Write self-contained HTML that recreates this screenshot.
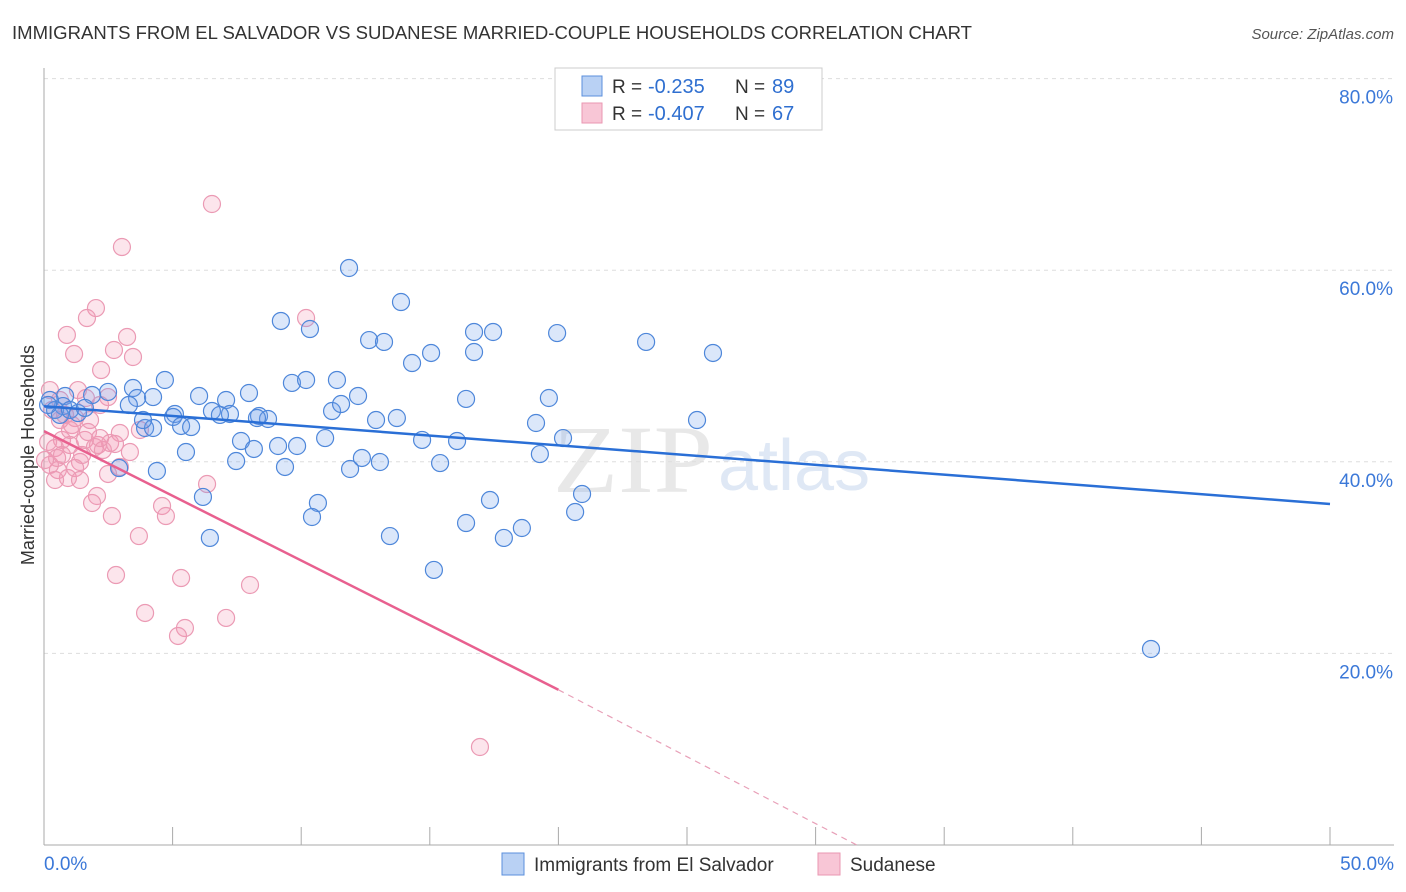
<!DOCTYPE html>
<html><head><meta charset="utf-8"><style>
body{margin:0;background:#fff;font-family:"Liberation Sans",sans-serif;}
svg{display:block}
</style></head><body>
<svg id="c" width="1406" height="892">
<text x="12" y="39" font-size="18" fill="#333" textLength="960" lengthAdjust="spacingAndGlyphs">IMMIGRANTS FROM EL SALVADOR VS SUDANESE MARRIED-COUPLE HOUSEHOLDS CORRELATION CHART</text>
<text x="1394" y="39" font-size="15" fill="#555" font-style="italic" text-anchor="end">Source: ZipAtlas.com</text>
<text x="553" y="492" font-size="96" fill="#e8e8e8" font-family="Liberation Serif" textLength="160" lengthAdjust="spacingAndGlyphs">ZIP</text>
<text x="718" y="490" font-size="72" fill="#dfe8f5">atlas</text>
<g id="grid"></g><g id="pts"></g><g id="lines"></g>
<text transform="translate(34,455) rotate(-90)" font-size="18" fill="#333" text-anchor="middle">Married-couple Households</text>
<g>
<rect x="555" y="68" width="267" height="62" fill="#fff" stroke="#ccc"/>
<rect x="582" y="76" width="20" height="20" fill="#b9d1f4" stroke="#5b8fdc"/>
<rect x="582" y="103" width="20" height="20" fill="#f8c6d6" stroke="#ea97b2"/>
<text x="612" y="93" font-size="19" fill="#333">R =</text><text x="648" y="93" font-size="20" fill="#2f6fd0">-0.235</text>
<text x="735" y="93" font-size="19" fill="#333">N =</text><text x="772" y="93" font-size="20" fill="#2f6fd0">89</text>
<text x="612" y="120" font-size="19" fill="#333">R =</text><text x="648" y="120" font-size="20" fill="#2f6fd0">-0.407</text>
<text x="735" y="120" font-size="19" fill="#333">N =</text><text x="772" y="120" font-size="20" fill="#2f6fd0">67</text>
</g>
<g>
<rect x="502" y="853" width="22" height="22" fill="#b9d1f4" stroke="#5b8fdc"/>
<text x="534" y="871" font-size="19" fill="#333">Immigrants from El Salvador</text>
<rect x="818" y="853" width="22" height="22" fill="#f8c6d6" stroke="#ea97b2"/>
<text x="850" y="871" font-size="19" fill="#333">Sudanese</text>
</g>
</svg>
<script>
const yTicks=[20,40,60,80];
const yTickLabels=["20.0%","40.0%","60.0%","80.0%"];
const xTicks=[0,5,10,15,20,25,30,35,40,45,50];
const bluePx=[[349,268],[401,302],[281,321],[310,329],[369,340],[384,342],[474,332],[493,332],[557,333],[646,342],[713,353],[431,353],[412,363],[474,352],[165,380],[292,383],[306,380],[337,380],[358,396],[249,393],[199,396],[226,400],[108,392],[133,388],[65,396],[63,406],[92,395],[137,398],[153,397],[129,405],[175,414],[173,417],[212,411],[230,414],[220,415],[259,416],[268,419],[257,418],[332,411],[341,404],[376,420],[397,418],[466,399],[549,398],[536,423],[697,420],[145,428],[153,428],[181,426],[191,427],[143,420],[241,441],[254,449],[278,446],[297,446],[325,438],[422,440],[457,441],[563,438],[186,452],[236,461],[285,467],[350,469],[362,458],[380,462],[440,463],[540,454],[157,471],[119,468],[203,497],[318,503],[312,517],[490,500],[582,494],[575,512],[466,523],[522,528],[504,538],[390,536],[210,538],[434,570],[1151,649],[50,400],[55,410],[60,415],[48,405],[70,410],[78,413],[85,408]];
const pinkPx=[[212,204],[122,247],[96,308],[87,318],[67,335],[127,337],[306,318],[114,350],[74,354],[133,357],[101,370],[86,398],[108,397],[50,390],[52,410],[60,420],[75,418],[90,420],[120,433],[62,440],[70,445],[85,440],[98,445],[110,443],[48,442],[55,448],[80,462],[58,470],[120,467],[108,474],[68,478],[75,468],[55,480],[80,480],[97,496],[92,503],[162,506],[166,516],[112,516],[207,484],[139,536],[116,575],[181,578],[250,585],[145,613],[185,628],[178,636],[226,618],[480,747],[95,447],[65,415],[72,425],[103,450],[50,465],[60,400],[78,390],[88,432],[100,438],[115,444],[130,452],[57,458],[45,460],[62,455],[82,455],[100,405],[140,430],[70,430]];
const blueX=bluePx.map(p=>+((p[0]-44)/25.72).toFixed(2));
const blueY=bluePx.map(p=>+((845-p[1])/9.58).toFixed(2));
const pinkX=pinkPx.map(p=>+((p[0]-44)/25.72).toFixed(2));
const pinkY=pinkPx.map(p=>+((845-p[1])/9.58).toFixed(2));
const blueTrend=[[0,45.8],[50,35.6]];
const pinkTrend=[[0,43.2],[20,16.2],[31.6,0]];
const X=v=>44+v*25.72, Y=v=>845-v*9.58;
const NS="http://www.w3.org/2000/svg";
function mk(t,a,p){const e=document.createElementNS(NS,t);for(const k in a)e.setAttribute(k,a[k]);p.appendChild(e);return e;}
const g=document.getElementById('grid');
yTicks.forEach((t,i)=>{
 const l=mk('line',{x1:44,x2:1394,y1:Y(t),y2:Y(t),stroke:'#ddd','stroke-dasharray':'4,4'},g);
 
 
 const tx=mk('text',{x:1393,y:Y(t)+25,'font-size':19,fill:'#3b78d8','text-anchor':'end'},g);
 tx.textContent=yTickLabels[i];
 
 
});
const ax=mk('line',{x1:44,x2:44,y1:68,y2:845,stroke:'#aaa'},g);


const bx=mk('line',{x1:44,x2:1394,y1:845,y2:845,stroke:'#aaa'},g);


xTicks.forEach(t=>{const l=mk('line',{x1:X(t),x2:X(t),y1:827,y2:845,stroke:'#aaa'},g);
 
 });
[[0,"0.0%","start",44],[50,"50.0%","end",1394]].forEach(a=>{const t=mk('text',{x:a[3],y:870,'font-size':19,fill:'#3b78d8','text-anchor':a[2]},g);t.textContent=a[1];
 
 });
const pg=document.getElementById('pts');
pinkX.forEach((x,i)=>{const c=mk('circle',{cx:X(x),cy:Y(pinkY[i]),r:8.5,fill:'rgba(244,150,180,0.25)',stroke:'#eb9ab4','stroke-width':1.2},pg);
 
 });
blueX.forEach((x,i)=>{const c=mk('circle',{cx:X(x),cy:Y(blueY[i]),r:8.5,fill:'rgba(110,160,235,0.25)',stroke:'#4e87da','stroke-width':1.2},pg);
 
 });
const lg=document.getElementById('lines');
const b=mk('line',{x1:X(blueTrend[0][0]),y1:Y(blueTrend[0][1]),x2:X(blueTrend[1][0]),y2:Y(blueTrend[1][1]),stroke:'#2a6fd6','stroke-width':2.5},lg);


const p=mk('line',{x1:X(pinkTrend[0][0]),y1:Y(pinkTrend[0][1]),x2:X(pinkTrend[1][0]),y2:Y(pinkTrend[1][1]),stroke:'#e8608f','stroke-width':2.5},lg);


const pd=mk('line',{x1:X(pinkTrend[1][0]),y1:Y(pinkTrend[1][1]),x2:X(pinkTrend[2][0]),y2:Y(pinkTrend[2][1]),stroke:'#e8a0b8','stroke-width':1.2,'stroke-dasharray':'6,5'},lg);


</script>
</body></html>
